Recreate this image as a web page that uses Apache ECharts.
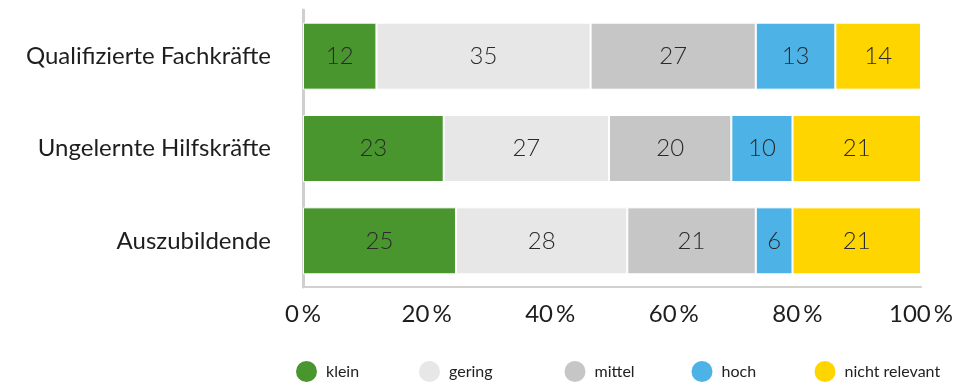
<!DOCTYPE html>
<html><head><meta charset="utf-8">
<script src="https://cdn.jsdelivr.net/npm/echarts@6/dist/echarts.min.js"></script>
<style>html,body{margin:0;padding:0;background:#fff}#c{width:967px;height:383px}</style>
</head><body><div id="c"></div>
<script>
const categories = ['Qualifizierte Fachkräfte', 'Ungelernte Hilfskräfte', 'Auszubildende'];
const seriesNames = ['klein', 'gering', 'mittel', 'hoch', 'nicht relevant'];
const klein = [12, 23, 25];
const gering = [35, 27, 28];
const mittel = [27, 20, 21];
const hoch = [13, 10, 6];
const nichtRelevant = [14, 21, 21];
const tickLabels = ['0\u2009%', '20\u2009%', '40\u2009%', '60\u2009%', '80\u2009%', '100\u2009%'];
const colors = ['#4a962e', '#e7e7e7', '#c6c6c6', '#4db3e6', '#ffd500'];

const rows = [klein, gering, mittel, hoch, nichtRelevant];
const rowSums = categories.map((_, i) => rows.reduce((s, r) => s + r[i], 0));
const FONT = 'Lato, "Noto Sans", sans-serif';

const series = rows.map((r, k) => ({
  name: seriesNames[k], type: 'bar', stack: 'all', barWidth: 67,
  itemStyle: { color: colors[k], borderColor: '#fff', borderWidth: 1 },
  label: { show: true, position: 'inside', color: '#2a2a2a', fontFamily: FONT, fontWeight: 300, fontSize: 24,
    formatter: p => String(r[p.dataIndex]) },
  emphasis: { disabled: true },
  data: r.map((v, i) => v / rowSums[i] * 100)
}));

const legendCenters = [305.5, 428.5, 574, 701, 824];
const legends = seriesNames.map((n, k) => ({
  data: [n], left: legendCenters[k] - 11.5, top: 359, icon: 'circle', itemWidth: 23, itemHeight: 23, itemGap: 0,
  selectedMode: false, padding: 0,
  textStyle: { fontFamily: FONT, fontSize: 16, color: '#222', padding: [0, 0, 0, 3] }
}));

const chart = echarts.init(document.getElementById('c'));
chart.setOption({
  animation: false,
  color: colors,
  grid: { left: 303, right: 46, top: 10, bottom: 96, containLabel: false },
  legend: legends,
  xAxis: {
    type: 'value', min: 0, max: 100, interval: 20,
    axisLine: { show: true, lineStyle: { color: '#d0d0d0', width: 2 } },
    axisTick: { show: false }, splitLine: { show: false },
    axisLabel: { margin: 15, color: '#1e1e1e', fontFamily: FONT, fontWeight: 400, fontSize: 24,
      formatter: v => tickLabels[Math.round(v / 20)] }
  },
  yAxis: {
    type: 'category', data: categories, inverse: true,
    axisLine: { show: true, lineStyle: { color: '#cfcfcf', width: 3 } },
    axisTick: { show: false },
    axisLabel: { margin: 32, color: '#1e1e1e', fontFamily: FONT, fontWeight: 400, fontSize: 24 }
  },
  series
});
</script></body></html>
